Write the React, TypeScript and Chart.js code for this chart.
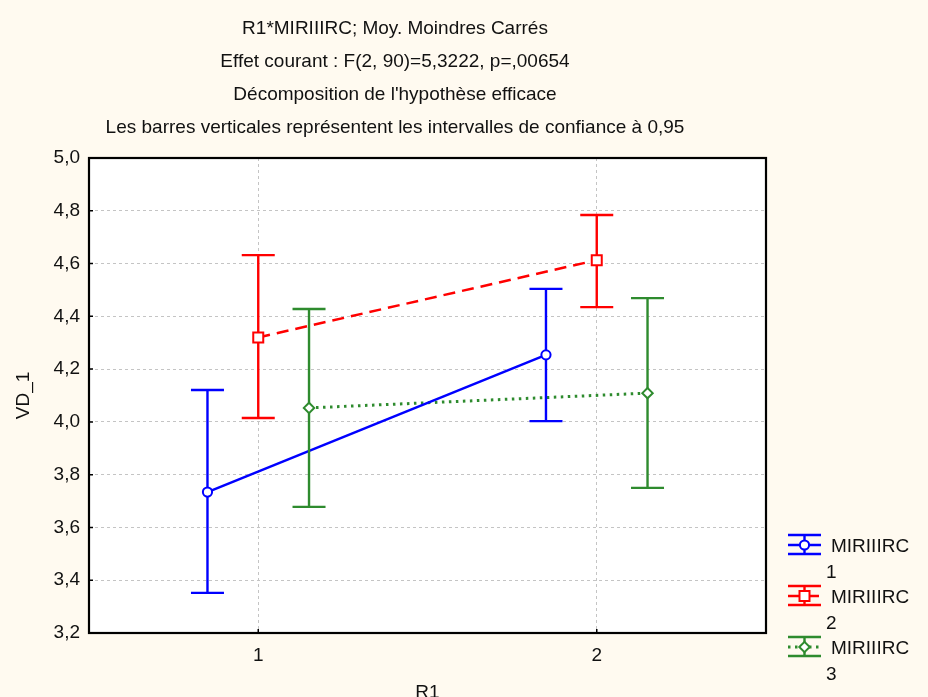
import React, { useEffect, useRef } from 'react';
import { Chart, registerables } from 'chart.js';

Chart.register(...registerables);

// ---- data ----
const categories = [1, 2];
const titleLines = [
  'R1*MIRIIIRC; Moy. Moindres Carrés',
  'Effet courant : F(2, 90)=5,3222, p=,00654',
  "Décomposition de l'hypothèse efficace",
  'Les barres verticales représentent les intervalles de confiance à 0,95',
];
const yTickValues = [3.2, 3.4, 3.6, 3.8, 4.0, 4.2, 4.4, 4.6, 4.8, 5.0];
const xAxisTitle = 'R1';
const yAxisTitle = 'VD_1';
const seriesNames = ['MIRIIIRC', 'MIRIIIRC', 'MIRIIIRC'];
const seriesLevels = ['1', '2', '3'];

const means1 = [3.734, 4.254];
const low1 = [3.352, 4.003];
const high1 = [4.121, 4.504];

const means2 = [4.32, 4.613];
const low2 = [4.015, 4.435];
const high2 = [4.632, 4.784];

const means3 = [4.053, 4.109];
const low3 = [3.678, 3.75];
const high3 = [4.428, 4.469];

// ---- styles ----
const FONT = '"Liberation Sans", Arial, sans-serif';
const BG = '#FFFAF0';
const BLUE = '#0000FF';
const RED = '#FF0000';
const GREEN = '#2E8B2E';
const OFFSETS = [-0.15, 0, 0.15];
const CAP = 16.5;

type Series = {
  mean: number[]; low: number[]; high: number[]; color: string;
  marker: 'circle' | 'rect' | 'diamond'; dash: number[]; width: number;
};

function drawMarker(ctx: CanvasRenderingContext2D, kind: string, x: number, y: number, color: string) {
  ctx.save();
  ctx.fillStyle = '#FFFFFF';
  ctx.strokeStyle = color;
  ctx.lineWidth = 2;
  ctx.setLineDash([]);
  ctx.beginPath();
  if (kind === 'circle') {
    ctx.arc(x, y, 4.6, 0, Math.PI * 2);
  } else if (kind === 'rect') {
    ctx.rect(x - 5, y - 5, 10, 10);
  } else {
    ctx.moveTo(x - 5.2, y);
    ctx.lineTo(x, y - 5.2);
    ctx.lineTo(x + 5.2, y);
    ctx.lineTo(x, y + 5.2);
    ctx.closePath();
  }
  ctx.fill();
  ctx.stroke();
  ctx.restore();
}

export default function App() {
  const ref = useRef<HTMLCanvasElement>(null);

  useEffect(() => {
    const series: Series[] = [
      { mean: means1, low: low1, high: high1, color: BLUE, marker: 'circle', dash: [], width: 2.5 },
      { mean: means2, low: low2, high: high2, color: RED, marker: 'rect', dash: [12, 7], width: 2.5 },
      { mean: means3, low: low3, high: high3, color: GREEN, marker: 'diamond', dash: [2.5, 4.5], width: 3 },
    ];

    const bgPlugin = {
      id: 'bg',
      beforeDraw(chart: any) {
        const { ctx, chartArea: a } = chart;
        ctx.save();
        ctx.fillStyle = BG;
        ctx.fillRect(0, 0, chart.width, chart.height);
        ctx.fillStyle = '#FFFFFF';
        ctx.fillRect(a.left, a.top, a.right - a.left, a.bottom - a.top);
        ctx.restore();
      },
    };

    const errPlugin = {
      id: 'errbars',
      afterDatasetsDraw(chart: any) {
        const { ctx } = chart;
        const xs = chart.scales.x;
        const ys = chart.scales.y;
        series.forEach((s, si) => {
          categories.forEach((c, ci) => {
            const px = xs.getPixelForValue(c + OFFSETS[si]);
            const yl = ys.getPixelForValue(s.low[ci]);
            const yh = ys.getPixelForValue(s.high[ci]);
            const ym = ys.getPixelForValue(s.mean[ci]);
            ctx.save();
            ctx.strokeStyle = s.color;
            ctx.lineWidth = 2.4;
            ctx.setLineDash([]);
            ctx.beginPath();
            ctx.moveTo(px, yl); ctx.lineTo(px, yh);
            ctx.moveTo(px - CAP, yl); ctx.lineTo(px + CAP, yl);
            ctx.moveTo(px - CAP, yh); ctx.lineTo(px + CAP, yh);
            ctx.stroke();
            ctx.restore();
            drawMarker(ctx, s.marker, px, ym, s.color);
          });
        });
      },
      afterDraw(chart: any) {
        const { ctx, chartArea: a } = chart;
        const xs = chart.scales.x;
        const ys = chart.scales.y;
        ctx.save();
        // inner tick marks
        ctx.strokeStyle = '#000';
        ctx.lineWidth = 1.5;
        ctx.beginPath();
        ys.ticks.forEach((t: any) => {
          const y = ys.getPixelForValue(t.value);
          ctx.moveTo(a.left, y); ctx.lineTo(a.left + 4, y);
        });
        xs.ticks.forEach((t: any) => {
          const x = xs.getPixelForValue(t.value);
          ctx.moveTo(x, a.bottom); ctx.lineTo(x, a.bottom - 4);
        });
        ctx.stroke();
        // frame
        ctx.lineWidth = 2.2;
        ctx.strokeRect(a.left, a.top, a.right - a.left, a.bottom - a.top);
        // titles
        ctx.fillStyle = '#111';
        ctx.font = `19px ${FONT}`;
        ctx.textAlign = 'center';
        ctx.textBaseline = 'alphabetic';
        titleLines.forEach((l, i) => ctx.fillText(l, 395, 34 + i * 33));
        // legend
        series.forEach((s, i) => {
          const cy = 545 + i * 51;
          const x0 = 788, x1 = 821, cx = 804.5;
          ctx.strokeStyle = s.color;
          ctx.lineWidth = 2.4;
          ctx.setLineDash([]);
          ctx.beginPath();
          ctx.moveTo(x0, cy - 10); ctx.lineTo(x1, cy - 10);
          ctx.moveTo(x0, cy + 9); ctx.lineTo(x1, cy + 9);
          ctx.moveTo(cx, cy - 10); ctx.lineTo(cx, cy + 9);
          ctx.stroke();
          ctx.lineWidth = s.width;
          ctx.setLineDash(s.dash);
          ctx.beginPath();
          ctx.moveTo(x0, cy); ctx.lineTo(x1, cy);
          ctx.stroke();
          ctx.setLineDash([]);
          drawMarker(ctx, s.marker, cx, cy, s.color);
          ctx.fillStyle = '#111';
          ctx.textAlign = 'left';
          ctx.textBaseline = 'alphabetic';
          ctx.fillText(seriesNames[i], 831, cy + 7);
          ctx.fillText(seriesLevels[i], 826, cy + 33);
        });
        ctx.restore();
      },
    };

    const datasets = series.map((s, si) => ({
      label: `${seriesNames[si]} ${seriesLevels[si]}`,
      data: categories.map((c, ci) => ({ x: c + OFFSETS[si], y: s.mean[ci] })),
      borderColor: s.color,
      backgroundColor: s.color,
      borderWidth: s.width,
      borderDash: s.dash,
      pointRadius: 0,
      tension: 0,
      fill: false,
    }));

    const chart = new Chart(ref.current as HTMLCanvasElement, {
      type: 'line',
      data: { datasets },
      options: {
        responsive: false,
        animation: false,
        layout: { padding: { top: 158, right: 162, bottom: 0, left: 0 } },
        plugins: { legend: { display: false }, title: { display: false }, tooltip: { enabled: false } },
        scales: {
          x: {
            type: 'linear',
            min: 0.5,
            max: 2.5,
            afterBuildTicks: (sc: any) => { sc.ticks = categories.map((v) => ({ value: v })); },
            afterFit: (sc: any) => { sc.height = 64; },
            ticks: {
              callback: (v: any) => String(v),
              font: { family: FONT, size: 19 },
              color: '#111',
              padding: 11,
            },
            grid: { color: '#C4C4C4', lineWidth: 1, drawTicks: false },
            border: { display: false, dash: [3, 3] },
            title: {
              display: true,
              text: xAxisTitle,
              font: { family: FONT, size: 19 },
              color: '#111',
              padding: { top: 0, bottom: -7 },
            },
          },
          y: {
            type: 'linear',
            min: 3.2,
            max: 5.0,
            afterBuildTicks: (sc: any) => { sc.ticks = yTickValues.map((v) => ({ value: v })); },
            afterFit: (sc: any) => { sc.width = 89; },
            ticks: {
              callback: (v: any) => Number(v).toFixed(1).replace('.', ','),
              font: { family: FONT, size: 19 },
              color: '#111',
              padding: 9,
            },
            grid: { color: '#C4C4C4', lineWidth: 1, drawTicks: false },
            border: { display: false, dash: [3, 3] },
            title: {
              display: true,
              text: yAxisTitle,
              font: { family: FONT, size: 19 },
              color: '#111',
              padding: { top: 12, bottom: 0 },
            },
          },
        },
      },
      plugins: [bgPlugin, errPlugin],
    } as any);

    return () => chart.destroy();
  }, []);

  return (
    <div style={{ position: 'absolute', left: 0, top: 0, width: 928, height: 697, background: BG }}>
      <canvas ref={ref} width={928} height={697} style={{ display: 'block', width: 928, height: 697 }} />
    </div>
  );
}
